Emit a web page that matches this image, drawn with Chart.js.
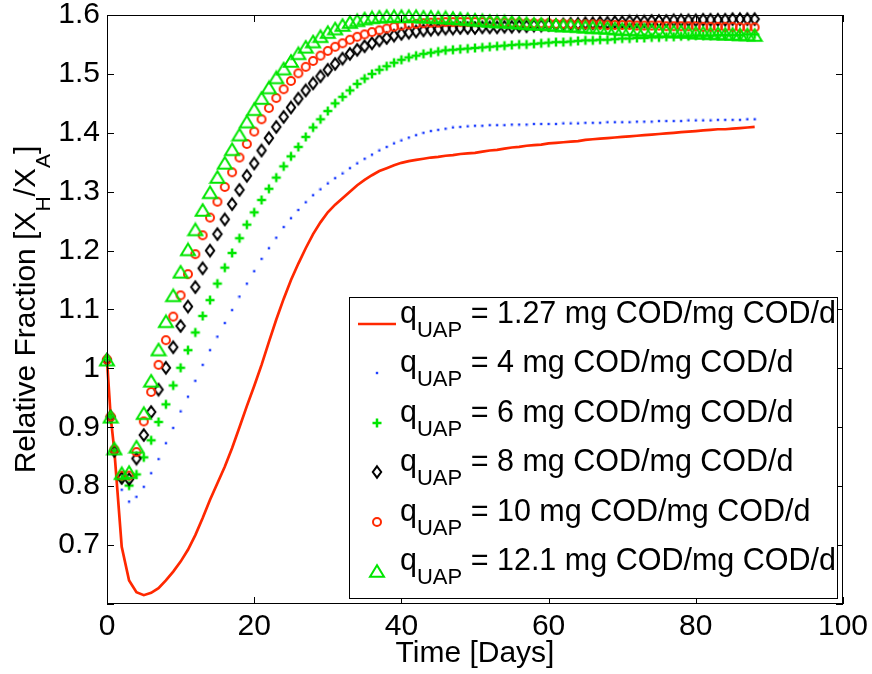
<!DOCTYPE html>
<html lang="en">
<head>
<meta charset="UTF-8">
<title>Relative Fraction X_H/X_A over Time</title>
<script src="https://cdn.jsdelivr.net/npm/chart.js"></script>
<style>
  html, body { margin: 0; padding: 0; background: #fff; }
</style>
</head>
<body>
<canvas id="myChart" width="872" height="674"></canvas>
<script>
// time axis (days)
const days = [0, 0.5, 1, 2, 3, 4, 5, 6, 7, 8, 9, 10, 11, 12, 13, 14, 15, 16, 17, 18, 19, 20,
  21, 22, 23, 24, 25, 26, 27, 28, 29, 30, 31, 32, 33, 34, 35, 36, 37, 38, 39, 40,
  41, 42, 43, 44, 45, 46, 47, 48, 49, 50, 51, 52, 53, 54, 55, 56, 57, 58, 59, 60,
  61, 62, 63, 64, 65, 66, 67, 68, 69, 70, 71, 72, 73, 74, 75, 76, 77, 78, 79, 80,
  81, 82, 83, 84, 85, 86, 87, 88];

// relative fraction for each q_UAP value
const q127 = [1.014, 0.918, 0.860, 0.697, 0.640, 0.620, 0.615, 0.619, 0.627, 0.640, 0.655, 0.672,
  0.692, 0.717, 0.746, 0.777, 0.805, 0.833, 0.865, 0.900, 0.936, 0.970, 1.006, 1.045, 1.083, 1.118,
  1.150, 1.178, 1.204, 1.228, 1.248, 1.265, 1.278, 1.289, 1.300, 1.311, 1.320, 1.328, 1.335, 1.340,
  1.345, 1.349, 1.352, 1.354, 1.356, 1.358, 1.359, 1.361, 1.362, 1.364, 1.365, 1.366, 1.368, 1.370,
  1.371, 1.373, 1.375, 1.376, 1.378, 1.379, 1.380, 1.382, 1.383, 1.384, 1.385, 1.386, 1.388, 1.389,
  1.390, 1.391, 1.392, 1.393, 1.394, 1.395, 1.396, 1.397, 1.398, 1.399, 1.400, 1.401, 1.402, 1.403,
  1.404, 1.405, 1.406, 1.406, 1.407, 1.408, 1.409, 1.410];
const q4 = [1.015, 0.918, 0.860, 0.794, 0.774, 0.782, 0.799, 0.822, 0.846, 0.873, 0.899, 0.927,
  0.952, 0.979, 1.006, 1.031, 1.054, 1.077, 1.099, 1.122, 1.144, 1.165, 1.186, 1.204, 1.222, 1.240,
  1.255, 1.269, 1.282, 1.294, 1.304, 1.314, 1.323, 1.331, 1.340, 1.348, 1.356, 1.363, 1.370, 1.376,
  1.382, 1.387, 1.392, 1.396, 1.400, 1.403, 1.405, 1.407, 1.409, 1.410, 1.411, 1.412, 1.412, 1.413,
  1.413, 1.413, 1.414, 1.414, 1.414, 1.415, 1.415, 1.415, 1.415, 1.416, 1.416, 1.416, 1.417, 1.417,
  1.417, 1.418, 1.418, 1.418, 1.418, 1.419, 1.419, 1.419, 1.420, 1.420, 1.420, 1.420, 1.421, 1.421,
  1.421, 1.421, 1.422, 1.422, 1.422, 1.422, 1.423, 1.423];
const q6 = [1.015, 0.918, 0.860, 0.812, 0.801, 0.820, 0.849, 0.878, 0.909, 0.939, 0.971, 1.001,
  1.031, 1.061, 1.089, 1.116, 1.144, 1.171, 1.196, 1.221, 1.244, 1.265, 1.286, 1.305, 1.324, 1.343,
  1.360, 1.376, 1.393, 1.409, 1.423, 1.437, 1.450, 1.461, 1.472, 1.483, 1.492, 1.500, 1.507, 1.513,
  1.519, 1.524, 1.528, 1.531, 1.534, 1.536, 1.538, 1.540, 1.541, 1.542, 1.543, 1.544, 1.545, 1.546,
  1.547, 1.548, 1.549, 1.550, 1.550, 1.551, 1.552, 1.553, 1.554, 1.554, 1.555, 1.556, 1.557, 1.557,
  1.558, 1.558, 1.559, 1.560, 1.560, 1.561, 1.561, 1.562, 1.562, 1.563, 1.563, 1.564, 1.564, 1.565,
  1.565, 1.565, 1.566, 1.566, 1.566, 1.566, 1.567, 1.567];
const q8 = [1.015, 0.918, 0.860, 0.814, 0.812, 0.847, 0.887, 0.926, 0.964, 1.001, 1.036, 1.072,
  1.105, 1.138, 1.170, 1.200, 1.228, 1.253, 1.279, 1.303, 1.327, 1.348, 1.370, 1.391, 1.410, 1.427,
  1.443, 1.458, 1.472, 1.484, 1.496, 1.507, 1.517, 1.526, 1.534, 1.541, 1.547, 1.552, 1.557, 1.561,
  1.565, 1.568, 1.570, 1.572, 1.574, 1.575, 1.576, 1.577, 1.577, 1.578, 1.578, 1.578, 1.579, 1.579,
  1.579, 1.580, 1.580, 1.581, 1.581, 1.582, 1.582, 1.583, 1.583, 1.584, 1.585, 1.585, 1.586, 1.586,
  1.587, 1.587, 1.588, 1.588, 1.589, 1.589, 1.589, 1.590, 1.590, 1.590, 1.591, 1.591, 1.591, 1.591,
  1.592, 1.592, 1.592, 1.592, 1.593, 1.593, 1.593, 1.593];
const q10 = [1.015, 0.918, 0.862, 0.818, 0.818, 0.858, 0.910, 0.960, 1.006, 1.048, 1.088, 1.124,
  1.160, 1.194, 1.226, 1.256, 1.283, 1.308, 1.333, 1.358, 1.381, 1.402, 1.423, 1.442, 1.459, 1.474,
  1.488, 1.501, 1.512, 1.522, 1.531, 1.539, 1.546, 1.552, 1.558, 1.563, 1.567, 1.571, 1.574, 1.577,
  1.580, 1.582, 1.584, 1.585, 1.586, 1.587, 1.587, 1.588, 1.588, 1.588, 1.588, 1.588, 1.588, 1.588,
  1.587, 1.587, 1.587, 1.587, 1.586, 1.586, 1.586, 1.586, 1.585, 1.585, 1.585, 1.584, 1.584, 1.584,
  1.584, 1.583, 1.583, 1.583, 1.583, 1.582, 1.582, 1.582, 1.582, 1.581, 1.581, 1.581, 1.581, 1.581,
  1.580, 1.580, 1.580, 1.580, 1.580, 1.579, 1.579, 1.579];
const q121 = [1.015, 0.918, 0.864, 0.822, 0.824, 0.867, 0.924, 0.979, 1.032, 1.080, 1.124, 1.164,
  1.202, 1.236, 1.269, 1.299, 1.325, 1.349, 1.372, 1.397, 1.419, 1.440, 1.459, 1.477, 1.494, 1.509,
  1.522, 1.535, 1.546, 1.555, 1.564, 1.571, 1.577, 1.583, 1.588, 1.591, 1.594, 1.596, 1.597, 1.598,
  1.598, 1.598, 1.598, 1.598, 1.597, 1.597, 1.596, 1.596, 1.595, 1.594, 1.593, 1.592, 1.591, 1.590,
  1.589, 1.589, 1.588, 1.587, 1.586, 1.585, 1.585, 1.584, 1.583, 1.582, 1.582, 1.581, 1.580, 1.579,
  1.579, 1.578, 1.577, 1.576, 1.576, 1.575, 1.575, 1.574, 1.573, 1.573, 1.572, 1.572, 1.571, 1.570,
  1.570, 1.569, 1.569, 1.568, 1.568, 1.567, 1.567, 1.566];

const qLabels = ['1.27', '4', '6', '8', '10', '12.1'];
const xTicks = [0, 20, 40, 60, 80, 100];
const yTicks = [0.6, 0.7, 0.8, 0.9, 1.0, 1.1, 1.2, 1.3, 1.4, 1.5, 1.6];

const FONT = '"Liberation Sans", Arial, Helvetica, sans-serif';
const RED = '#ff2800';
const GREEN = '#00e600';
const BLUE = '#2040ff';

// small canvases used as matlab-like hollow markers
function marker(w, h, draw) {
  const c = document.createElement('canvas');
  c.width = w;
  c.height = h;
  draw(c.getContext('2d'));
  return c;
}
const triMark = marker(18, 16, g => {
  g.strokeStyle = GREEN; g.lineWidth = 2;
  g.beginPath(); g.moveTo(9, 2.2); g.lineTo(2, 13.8); g.lineTo(16, 13.8); g.closePath(); g.stroke();
});
const circMark = marker(14, 14, g => {
  g.strokeStyle = RED; g.lineWidth = 2;
  g.beginPath(); g.arc(7, 7, 4, 0, Math.PI * 2); g.stroke();
});
const diaMark = marker(14, 16, g => {
  g.strokeStyle = '#000'; g.lineWidth = 2;
  g.beginPath(); g.moveTo(7, 2.3); g.lineTo(11.2, 8); g.lineTo(7, 13.7); g.lineTo(2.8, 8); g.closePath(); g.stroke();
});
const plusMark = marker(12, 12, g => {
  g.strokeStyle = GREEN; g.lineWidth = 2.5;
  g.beginPath(); g.moveTo(6, 1.5); g.lineTo(6, 10.5); g.moveTo(1.5, 6); g.lineTo(10.5, 6); g.stroke();
});
const dotMark = marker(4, 4, g => {
  g.fillStyle = BLUE; g.fillRect(0.8, 0.8, 2.4, 2.4);
});

const pts = arr => days.map((d, i) => ({ x: d, y: arr[i] }));

function markerSet(label, arr, img, order) {
  return {
    label: label, data: pts(arr), showLine: false, pointStyle: img,
    pointRadius: 5, order: order, clip: false
  };
}

const datasets = [
  { label: qLabels[0], data: pts(q127), showLine: true, borderColor: RED, borderWidth: 2.7,
    pointRadius: 0, tension: 0, order: 6, clip: false },
  markerSet(qLabels[1], q4, dotMark, 5),
  markerSet(qLabels[2], q6, plusMark, 4),
  markerSet(qLabels[3], q8, diaMark, 3),
  markerSet(qLabels[4], q10, circMark, 2),
  markerSet(qLabels[5], q121, triMark, 1)
];
const legendSymbols = [null, dotMark, plusMark, diaMark, circMark, triMark];

// draws text pieces with subscripts, returns end x
function richText(ctx, parts, x, y, size, subSize, subDrop) {
  parts.forEach(p => {
    ctx.font = (p.sub ? subSize : size) + 'px ' + FONT;
    ctx.fillText(p.t, x, p.sub ? y + subDrop : y);
    x += ctx.measureText(p.t).width;
  });
  return x;
}
function richWidth(ctx, parts, size, subSize) {
  let w = 0;
  parts.forEach(p => {
    ctx.font = (p.sub ? subSize : size) + 'px ' + FONT;
    w += ctx.measureText(p.t).width;
  });
  return w;
}

const matlabFrame = {
  id: 'matlabFrame',
  afterDraw(chart) {
    const { ctx, chartArea: a, scales: { x, y } } = chart;
    ctx.save();
    ctx.strokeStyle = '#000';
    ctx.lineWidth = 1;
    // axes box
    ctx.strokeRect(Math.round(a.left) + 0.5, Math.round(a.top) + 0.5,
      Math.round(a.right - a.left) - 1, Math.round(a.bottom - a.top) - 1);
    // inward ticks on all four sides
    ctx.beginPath();
    xTicks.forEach(v => {
      const px = Math.round(x.getPixelForValue(v)) + 0.5;
      ctx.moveTo(px, a.bottom); ctx.lineTo(px, a.bottom - 7);
      ctx.moveTo(px, a.top); ctx.lineTo(px, a.top + 7);
    });
    yTicks.forEach(v => {
      const py = Math.round(y.getPixelForValue(v)) + 0.5;
      ctx.moveTo(a.left, py); ctx.lineTo(a.left + 7, py);
      ctx.moveTo(a.right, py); ctx.lineTo(a.right - 7, py);
    });
    ctx.stroke();

    // y axis title with subscripts
    ctx.fillStyle = '#000';
    ctx.textBaseline = 'alphabetic';
    ctx.textAlign = 'left';
    const yParts = [{ t: 'Relative Fraction [X' }, { t: 'H', sub: true }, { t: '/X' }, { t: 'A', sub: true }, { t: ']' }];
    const w = richWidth(ctx, yParts, 30, 21);
    ctx.save();
    ctx.translate(35, (a.top + a.bottom) / 2);
    ctx.rotate(-Math.PI / 2);
    richText(ctx, yParts, -w / 2, 0, 30, 21, 15);
    ctx.restore();

    // legend box
    const lx = 349, ly = 297, lw = 488, lh = 301;
    ctx.fillStyle = '#fff';
    ctx.fillRect(lx, ly, lw, lh);
    ctx.strokeRect(lx + 0.5, ly + 0.5, lw, lh);
    qLabels.forEach((q, i) => {
      const base = 323 + 49.4 * i;
      const sym = legendSymbols[i];
      if (!sym) {
        ctx.strokeStyle = RED;
        ctx.lineWidth = 2.7;
        ctx.beginPath(); ctx.moveTo(358, base + 1); ctx.lineTo(396, base + 1); ctx.stroke();
      } else {
        ctx.drawImage(sym, Math.round(377 - sym.width / 2), Math.round(base + 1 - sym.height / 2));
      }
      ctx.fillStyle = '#000';
      richText(ctx, [{ t: 'q' }, { t: 'UAP', sub: true }, { t: ' = ' + q + ' mg COD/mg COD/d' }],
        400, base, 30.5, 22, 14);
    });
    ctx.restore();
  }
};

const config = {
  type: 'line',
  data: { datasets: datasets },
  options: {
    responsive: false,
    animation: false,
    events: [],
    layout: { padding: { left: 0, right: 29, top: 15, bottom: 0 } },
    plugins: { legend: { display: false }, tooltip: { enabled: false } },
    scales: {
      x: {
        type: 'linear', min: 0, max: 100,
        ticks: { stepSize: 20, color: '#000', padding: 8, maxRotation: 0,
          font: { family: FONT, size: 30, lineHeight: 1 } },
        grid: { display: false, drawTicks: false },
        border: { display: false },
        title: { display: true, text: 'Time [Days]', color: '#000',
          font: { family: FONT, size: 30, lineHeight: 1 }, padding: { top: 0, bottom: 5 } },
        afterFit: s => { s.height = 70; s.paddingLeft = 0; s.paddingRight = 0; }
      },
      y: {
        type: 'linear', min: 0.6, max: 1.6,
        ticks: { stepSize: 0.1, color: '#000', padding: 7,
          font: { family: FONT, size: 30, lineHeight: 1 },
          callback: v => (v < 0.65 ? '' : String(Math.round(v * 10) / 10)) },
        grid: { display: false, drawTicks: false },
        border: { display: false },
        afterFit: s => { s.width = 107; s.paddingTop = 0; s.paddingBottom = 0; }
      }
    }
  },
  plugins: [matlabFrame]
};

new Chart(document.getElementById('myChart').getContext('2d'), config);
</script>
</body>
</html>
